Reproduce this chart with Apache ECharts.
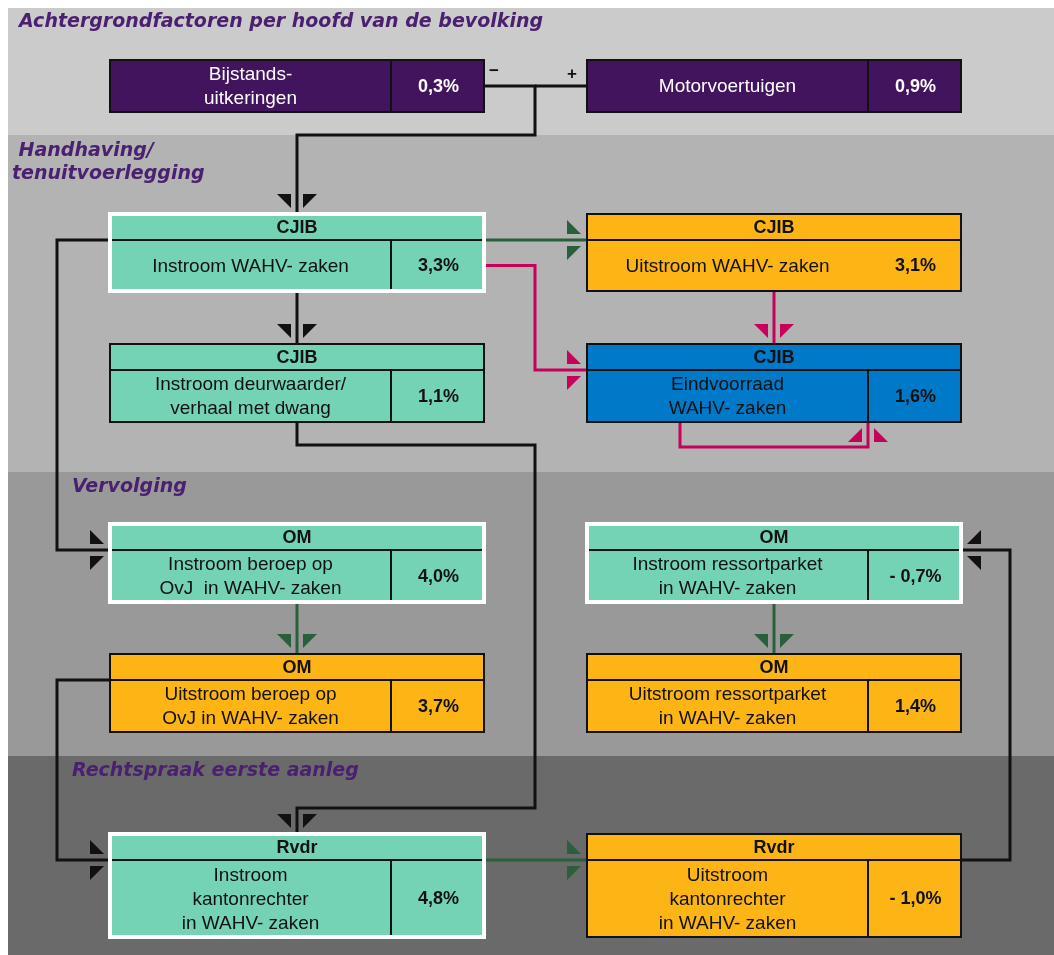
<!DOCTYPE html>
<html>
<head>
<meta charset="utf-8">
<title>WAHV-keten</title>
<script src="https://cdn.jsdelivr.net/npm/echarts@6.0.0/dist/echarts.min.js"></script>
<style>
html, body { margin: 0; padding: 0; background: #fff; }
#chart { width: 1054px; height: 955px; }
</style>
</head>
<body>
<div id="chart"></div>
<script>
// fasen in de keten (achtergrondbanden)
var stageNames = ['Achtergrondfactoren per hoofd van de bevolking', ' Handhaving/\ntenuitvoerlegging', 'Vervolging', 'Rechtspraak eerste aanleg'];

// boxen: organisatie, omschrijving, groei in %
var boxHeaders = ['', '', 'CJIB', 'CJIB', 'CJIB', 'CJIB', 'OM', 'OM', 'OM', 'OM', 'Rvdr', 'Rvdr'];
var boxLabels = [
    'Bijstands-\nuitkeringen',
    'Motorvoertuigen',
    'Instroom WAHV- zaken',
    'Uitstroom WAHV- zaken',
    'Instroom deurwaarder/\nverhaal met dwang',
    'Eindvoorraad\nWAHV- zaken',
    'Instroom beroep op\nOvJ  in WAHV- zaken',
    'Instroom ressortparket\nin WAHV- zaken',
    'Uitstroom beroep op\nOvJ in WAHV- zaken',
    'Uitstroom ressortparket\nin WAHV- zaken',
    'Instroom\nkantonrechter\nin WAHV- zaken',
    'Uitstroom\nkantonrechter\nin WAHV- zaken'
];
var boxValues = [0.3, 0.9, 3.3, 3.1, 1.1, 1.6, 4.0, -0.7, 3.7, 1.4, 4.8, -1.0];
var boxKinds = ['achtergrond', 'achtergrond', 'instroom', 'uitstroom', 'tussen', 'voorraad',
                'instroom', 'instroom', 'uitstroom', 'uitstroom', 'instroom', 'uitstroom'];

// stromen tussen boxen (index in de arrays hierboven)
var flowFrom  = [0, 1, 2, 2, 2, 3, 5, 2, 4, 6, 8, 10, 11, 7];
var flowTo    = [2, 2, 3, 5, 4, 5, 5, 6, 10, 8, 10, 11, 7, 9];
var flowKinds = ['keten', 'keten', 'door', 'voorraad', 'keten', 'voorraad', 'voorraad',
                 'keten', 'keten', 'door', 'keten', 'door', 'keten', 'door'];
var flowSigns = ['\u2212', '+', '', '', '', '', '', '', '', '', '', '', '', ''];

// ---- opmaak / layout ----
var W = 1054, H = 955;
var bandLeft = 8;
var stageTop = [8, 135, 472, 756, 955];
var stageColors = ['#CBCBCB', '#B3B3B3', '#999999', '#6A6A6A'];
var stageTitlePos = [[19, 22], [12, 163], [72, 487], [72, 771]];

var colX = [110, 587];
var boxW = 374, divOffset = 281, headH = 26;
var rowTop = [60, 214, 344, 524, 654, 834];
var rowH = [52, 77, 78, 78, 78, 103];
var boxCol = [0, 1, 0, 1, 0, 1, 0, 1, 0, 1, 0, 1];
var boxRow = [0, 0, 1, 1, 2, 2, 3, 3, 4, 4, 5, 5];
var boxDivider = [true, true, true, false, true, true, true, true, true, true, true, true];

var kindStyle = {
    achtergrond: { fill: '#43145E', stroke: '#111', lw: 2, text: '#fff' },
    instroom:    { fill: '#74D3B5', stroke: '#fff', lw: 4, text: '#111' },
    tussen:      { fill: '#74D3B5', stroke: '#111', lw: 2, text: '#111' },
    uitstroom:   { fill: '#FDB515', stroke: '#111', lw: 2, text: '#111' },
    voorraad:    { fill: '#0079C8', stroke: '#111', lw: 2, text: '#111' }
};
var flowColors = { keten: '#111111', door: '#2B5F3B', voorraad: '#C8005A' };
var flowRoute = ['merge', 'mergeSide', 'straightH', 'elbowMid', 'straightV', 'straightV', 'loop',
                 'laneLeft', 'deur', 'straightV', 'laneLeft', 'straightH', 'laneRight', 'straightV'];
var laneX = { left: 57, mid: 535, right: 1010 };
var laneY = { top: 135, deur: 445, rvdr: 808, loop: 25 };

var boxFont = '"Liberation Sans", Arial, sans-serif';

function rect(i) {
    return { x: colX[boxCol[i]], y: rowTop[boxRow[i]], w: boxW, h: rowH[boxRow[i]] };
}
function headY(i) {
    var r = rect(i);
    return boxHeaders[i] === '' ? r.y + r.h / 2 : r.y + headH;
}
function bodyY(i) {
    var r = rect(i);
    var hh = boxHeaders[i] === '' ? 0 : headH;
    return r.y + hh + (r.h - hh) / 2;
}
function cx(i) { var r = rect(i); return r.x + r.w / 2; }

function routePoints(k) {
    var f = flowFrom[k], t = flowTo[k];
    var a = rect(f), b = rect(t);
    switch (flowRoute[k]) {
        case 'merge':
            return [[a.x + a.w, bodyY(f)], [laneX.mid, bodyY(f)], [laneX.mid, laneY.top], [cx(t), laneY.top], [cx(t), b.y]];
        case 'mergeSide':
            return [[a.x, bodyY(f)], [laneX.mid, bodyY(f)]];
        case 'straightH':
            return [[a.x + a.w, headY(f)], [b.x, headY(t)]];
        case 'elbowMid':
            return [[a.x + a.w, bodyY(f)], [laneX.mid, bodyY(f)], [laneX.mid, headY(t)], [b.x, headY(t)]];
        case 'straightV':
            return [[cx(f), a.y + a.h], [cx(t), b.y]];
        case 'loop':
            return [[a.x + 93, a.y + a.h], [a.x + 93, a.y + a.h + laneY.loop],
                    [a.x + divOffset, a.y + a.h + laneY.loop], [a.x + divOffset, a.y + a.h]];
        case 'laneLeft':
            return [[a.x, headY(f)], [laneX.left, headY(f)], [laneX.left, headY(t)], [b.x, headY(t)]];
        case 'deur':
            return [[cx(f), a.y + a.h], [cx(f), laneY.deur], [laneX.mid, laneY.deur], [laneX.mid, laneY.rvdr],
                    [cx(t), laneY.rvdr], [cx(t), b.y]];
        case 'laneRight':
            return [[a.x + a.w, headY(f)], [laneX.right, headY(f)], [laneX.right, headY(t)], [b.x + b.w, headY(t)]];
    }
    return [];
}

function fmtPct(v) {
    return (v < 0 ? '- ' : '') + Math.abs(v).toFixed(1).replace('.', ',') + '%';
}

// twee halve pijlpunten, aan weerszijden van de lijn
function arrowPieces(end, prev) {
    var dx = end[0] - prev[0], dy = end[1] - prev[1];
    var len = Math.sqrt(dx * dx + dy * dy);
    var ux = dx / len, uy = dy / len, nx = -uy, ny = ux;
    var out = [];
    [1, -1].forEach(function (s) {
        out.push([
            [end[0] - ux * 20 + nx * 20 * s, end[1] - uy * 20 + ny * 20 * s],
            [end[0] - ux * 20 + nx * 6 * s, end[1] - uy * 20 + ny * 6 * s],
            [end[0] - ux * 6 + nx * 6 * s, end[1] - uy * 6 + ny * 6 * s]
        ]);
    });
    return out;
}

function txt(text, x, y, fill, size, weight, align) {
    return {
        type: 'text',
        style: {
            text: text, x: x, y: y, fill: fill,
            fontFamily: boxFont, fontSize: size, fontWeight: weight,
            align: align || 'center', verticalAlign: 'middle', lineHeight: 24
        }
    };
}

function renderStage(params, api) {
    var i = params.dataIndex;
    var p0 = api.coord([bandLeft, stageTop[i]]);
    var p1 = api.coord([W, stageTop[i + 1]]);
    var t = api.coord(stageTitlePos[i]);
    return {
        type: 'group',
        children: [
            { type: 'rect', shape: { x: p0[0], y: p0[1], width: p1[0] - p0[0], height: p1[1] - p0[1] },
              style: { fill: stageColors[i] } },
            { type: 'text', style: {
                text: stageNames[i], x: t[0], y: t[1], fill: '#4B2070',
                fontFamily: '"DejaVu Sans", sans-serif', fontSize: 19, fontWeight: 'bold', fontStyle: 'italic',
                align: 'left', verticalAlign: 'middle', lineHeight: 23 } }
        ]
    };
}

function renderFlow(params, api) {
    var k = params.dataIndex;
    var pts = routePoints(k).map(function (p) { return api.coord(p); });
    var col = flowColors[flowKinds[k]];
    var children = [{
        type: 'polyline', shape: { points: pts },
        style: { stroke: col, lineWidth: 3, fill: null, lineJoin: 'miter' }
    }];
    if (flowRoute[k] !== 'mergeSide') {
        arrowPieces(pts[pts.length - 1], pts[pts.length - 2]).forEach(function (p) {
            children.push({ type: 'polygon', shape: { points: p }, style: { fill: col } });
        });
    }
    if (flowSigns[k]) {
        var s = pts[0];
        var off = flowRoute[k] === 'merge' ? [10, -15] : [-15, -12];
        children.push({ type: 'text', style: {
            text: flowSigns[k], x: s[0] + off[0], y: s[1] + off[1], fill: '#111',
            fontFamily: boxFont, fontSize: 17, fontWeight: 'bold', align: 'center', verticalAlign: 'middle' } });
    }
    return { type: 'group', children: children };
}

function renderBox(params, api) {
    var i = params.dataIndex, r = rect(i), st = kindStyle[boxKinds[i]];
    var p0 = api.coord([r.x, r.y]), p1 = api.coord([r.x + r.w, r.y + r.h]);
    var x = p0[0], y = p0[1], w = p1[0] - x, h = p1[1] - y;
    var hh = boxHeaders[i] === '' ? 0 : headH;
    var dx = x + divOffset;
    var children = [{ type: 'rect', shape: { x: x, y: y, width: w, height: h }, style: { fill: st.fill } }];
    if (hh) {
        children.push({ type: 'line', shape: { x1: x, y1: y + hh, x2: x + w, y2: y + hh },
                        style: { stroke: '#111', lineWidth: 2 } });
        children.push(txt(boxHeaders[i], x + w / 2, y + hh / 2 + 1, st.text, 18, 'bold'));
    }
    if (boxDivider[i]) {
        children.push({ type: 'line', shape: { x1: dx, y1: y + hh, x2: dx, y2: y + h },
                        style: { stroke: '#111', lineWidth: 2 } });
    }
    var by = y + hh + (h - hh) / 2 + 1;
    children.push(txt(boxLabels[i], (x + dx) / 2, by, st.text, 19, 'normal'));
    children.push(txt(fmtPct(boxValues[i]), (dx + x + w) / 2 + 1, by, st.text, 18, 'bold'));
    children.push({ type: 'rect', shape: { x: x, y: y, width: w, height: h },
                    style: { fill: null, stroke: st.stroke, lineWidth: st.lw } });
    return { type: 'group', children: children };
}

var chart = echarts.init(document.getElementById('chart'));
chart.setOption({
    animation: false,
    grid: { left: 0, right: 0, top: 0, bottom: 0 },
    xAxis: { type: 'value', min: 0, max: W, show: false },
    yAxis: { type: 'value', min: 0, max: H, inverse: true, show: false },
    series: [
        { type: 'custom', z: 1, renderItem: renderStage,
          data: stageNames.map(function (n, i) { return [i, i]; }) },
        { type: 'custom', z: 2, renderItem: renderFlow,
          data: flowFrom.map(function (f, k) { return [k, k]; }) },
        { type: 'custom', z: 3, renderItem: renderBox,
          data: boxLabels.map(function (l, i) { return [i, i]; }) }
    ]
});
</script>
</body>
</html>
